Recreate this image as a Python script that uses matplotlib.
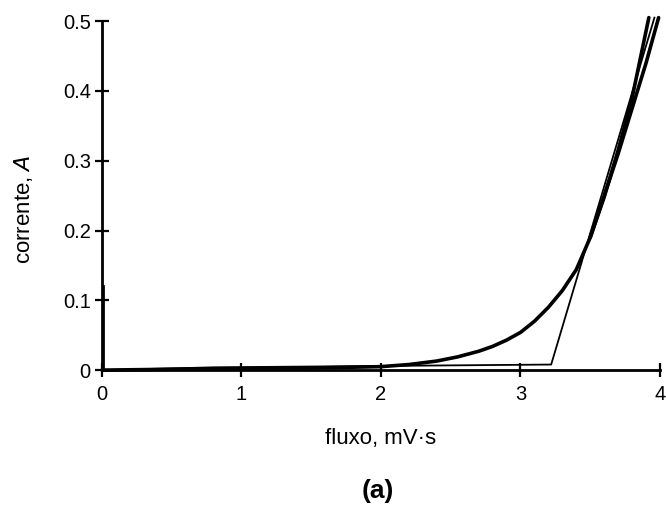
import numpy as np
import matplotlib
matplotlib.use('Agg')
import matplotlib.pyplot as plt

plt.rcParams['font.family'] = ['Liberation Sans', 'DejaVu Sans']

# thin piecewise-linear curve
thin_x = [0.0, 0.8, 3.22, 3.96]
thin_y = [0.0, 0.004, 0.008, 0.505]

# thick smooth curve
fit_x = [0.0, 0.8, 1.5, 2.0, 2.2, 2.4, 2.55, 2.7, 2.8, 2.9, 3.0, 3.1, 3.2, 3.3,
         3.4, 3.5, 3.6, 3.7, 3.8, 3.92]
fit_y = [0.0, 0.002, 0.003, 0.005, 0.008, 0.013, 0.019, 0.027, 0.034, 0.043, 0.054,
         0.07, 0.09, 0.114, 0.144, 0.19, 0.248, 0.315, 0.39, 0.505]

# second thick branch near the top
meas_x = [3.5, 3.6, 3.7, 3.8, 3.9, 3.99]
meas_y = [0.19, 0.25, 0.31, 0.375, 0.44, 0.505]

# short rise at the origin
orig_x = [0.005, 0.005]
orig_y = [0.0, 0.12]

xticks = [0, 1, 2, 3, 4]
yticks = [0, 0.1, 0.2, 0.3, 0.4, 0.5]
yticklabels = ['0', '0.1', '0.2', '0.3', '0.4', '0.5']

fig = plt.figure(figsize=(6.66, 5.28), dpi=100)
ax = fig.add_axes([0.153, 0.299, 0.838, 0.661])

ax.plot(thin_x, thin_y, color='black', lw=1.3, clip_on=False)
ax.plot(fit_x, fit_y, color='black', lw=2.6, clip_on=False, solid_capstyle='round')
ax.plot(meas_x, meas_y, color='black', lw=2.6, clip_on=False, solid_capstyle='round')
ax.plot(orig_x, orig_y, color='black', lw=2.0, clip_on=False)

ax.set_xlim(0, 4)
ax.set_ylim(0, 0.5)
ax.set_xticks(xticks)
ax.set_yticks(yticks)
ax.set_yticklabels(yticklabels)

for s in ['top', 'right']:
    ax.spines[s].set_visible(False)
for s in ['left', 'bottom']:
    ax.spines[s].set_linewidth(2.0)

ax.tick_params(direction='inout', length=10, width=1.6, labelsize=14.5, pad=6)
ax.tick_params(axis='y', pad=3)

ax.set_xlabel('fluxo, mV·s', fontsize=16, labelpad=17)
ax.set_ylabel('corrente, $\\it{A}$', fontsize=16)
ax.yaxis.set_label_coords(-0.12, 0.46)

fig.text(0.568, 0.07, '(a)', fontsize=19, fontweight='bold', ha='center', va='center')

fig.savefig('out.png', dpi=100)
